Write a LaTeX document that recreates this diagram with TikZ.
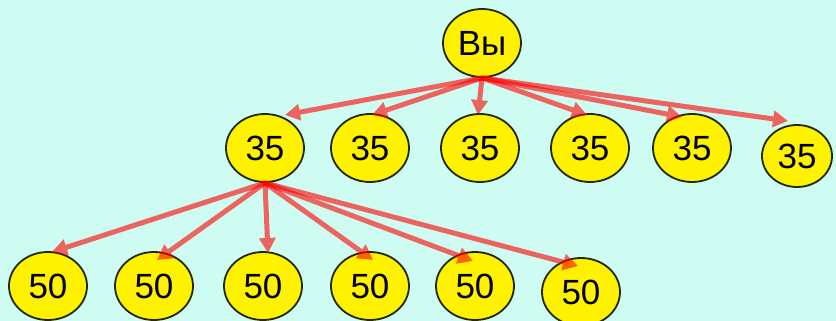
\documentclass[tikz,border=0pt]{standalone}
\usepackage{fontspec}
\setmainfont{Liberation Sans}
\usetikzlibrary{arrows.meta,shapes.geometric}
\definecolor{bgc}{RGB}{206,252,242}
\definecolor{rim}{RGB}{34,40,6}
% one semi-transparent arrow, drawn as a group so line and tip do not double up
\newcommand\linkarrow[2]{%
  \begin{scope}[transparency group, opacity=0.6]
    \draw[arr] (#1) -- (#2);
  \end{scope}}
\begin{document}
\begin{tikzpicture}[x=1pt,y=-1pt,
  ell/.style={ellipse, draw=rim, line width=1.8pt, fill=yellow, inner sep=0pt,
    minimum width=78pt, minimum height=68pt,
    font=\fontsize{35}{35}\selectfont},
  small/.style={minimum width=70pt, minimum height=62pt},
  arr/.style={red, line width=5pt, -{Triangle[length=15pt,width=16pt]}}]
\path[fill=bgc, use as bounding box] (0,0) rectangle (836,321);

% root
\node[ell] (vy) at (482,43) {Вы};

% second level
\node[ell] (c1) at (265,148) {35};
\node[ell] (c2) at (370,148) {35};
\node[ell] (c3) at (480,148) {35};
\node[ell] (c4) at (590,148) {35};
\node[ell] (c5) at (692,148) {35};
\node[ell,small] (c6) at (797,156) {35};

% third level
\node[ell] (d1) at (48,286) {50};
\node[ell] (d2) at (154,286) {50};
\node[ell] (d3) at (263,286) {50};
\node[ell] (d4) at (370,286) {50};
\node[ell] (d5) at (475,286) {50};
\node[ell] (d6) at (581,292) {50};

% arrow tips
\coordinate (tc1) at (285,115);
\coordinate (tc2) at (372,115);
\coordinate (tc3) at (478,115);
\coordinate (tc4) at (587,115);
\coordinate (tc5) at (682,117);
\coordinate (tc6) at (788,121);
\coordinate (td1) at (52,252);
\coordinate (td2) at (157,260);
\coordinate (td3) at (268,253);
\coordinate (td4) at (373,260);
\coordinate (td5) at (473,261);
\coordinate (td6) at (578,266);

\foreach \i in {1,...,6} {\linkarrow{vy.south}{tc\i}}
\foreach \i in {1,...,6} {\linkarrow{c1.south}{td\i}}
\end{tikzpicture}
\end{document}
